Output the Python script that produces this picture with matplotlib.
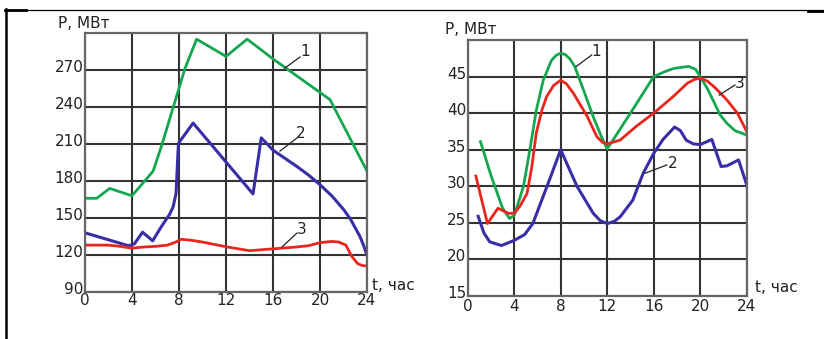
import matplotlib
matplotlib.use("Agg")
import matplotlib.pyplot as plt
from matplotlib.lines import Line2D
import matplotlib.transforms as mtransforms

plt.rcParams['font.family'] = ['DejaVu Sans']

# ---------------- Left chart data ----------------
L_t1 = [0, 1.0, 2.1, 4.0, 5.8, 6.5, 8.5, 9.5, 12.0, 13.8, 16.0, 20.85, 24.0]
L_p1 = [166, 166, 174, 168, 188, 208, 271, 295, 281, 295, 279, 246, 188]

L_t2 = [0, 3.7, 4.2, 4.9, 5.76, 6.5, 7.2, 7.5, 7.75, 7.85, 7.95, 9.2, 14.3, 15.0,
        16.0, 17.0, 18.0, 19.0, 20.0, 21.0, 22.0, 22.6, 23.0, 23.4, 23.7, 24.0]
L_p2 = [138, 127.5, 129, 138.5, 131.5, 143, 153, 159, 170, 190, 210.5, 227, 169.5, 215,
        205, 198.5, 192, 185, 177, 168, 157, 149, 142, 135, 128, 120]

L_t3 = [0, 2, 3, 4, 5, 6, 7, 7.6, 8.2, 9, 10, 12, 14, 16, 18, 19, 20, 21, 21.6,
        22.2, 22.7, 23.2, 23.6, 24]
L_p3 = [128, 128, 127, 125.5, 126.5, 127, 128, 130, 132.7, 132, 130.5, 126.7, 123.5, 125,
        126.5, 127.5, 130, 131, 130.5, 128, 119, 113, 111.5, 111]

L_yticks = [90, 120, 150, 180, 210, 240, 270]
L_xticks = [0, 4, 8, 12, 16, 20, 24]

# ---------------- Right chart data ----------------
R_t1 = [1.1, 2.0, 3.0, 3.6, 4.0, 4.8, 5.4, 5.9, 6.5, 7.2, 7.6, 8.0, 8.4, 8.8, 9.2, 10.0, 10.8,
        11.5, 12.0, 14.0, 16.0, 17.0, 17.7, 19.0, 19.6, 20.0, 20.6, 21.1, 21.7, 22.3, 23.0, 24.0]
R_p1 = [36.1, 31.5, 27.0, 25.6, 26.0, 30.0, 35.5, 40.4, 44.5, 47.2, 47.9, 48.2, 48.0, 47.4, 46.4, 43.0, 39.5,
        36.8, 35.1, 40.0, 45.0, 45.7, 46.1, 46.4, 46.0, 45.0, 43.4, 41.8, 39.8, 38.6, 37.6, 37.0]

R_t3 = [0.7, 1.7, 2.6, 3.5, 4.0, 4.5, 5.1, 5.5, 5.9, 6.4, 6.8, 7.4, 8.0, 8.5, 9.1, 10.3, 11.1,
        11.6, 12.0, 13.1, 14.5, 16.0, 17.7, 18.9, 19.5, 20.0, 20.6, 21.2, 22.3, 23.2, 24.0]
R_p3 = [31.4, 24.9, 27.0, 26.3, 26.3, 27.3, 29.0, 32.5, 37.3, 40.5, 42.3, 43.8, 44.5, 44.0, 42.7, 39.5, 36.8,
        36.0, 35.8, 36.3, 38.2, 40.0, 42.3, 44.1, 44.6, 44.8, 44.4, 43.6, 41.8, 40.0, 37.5]

R_t2 = [0.9, 1.4, 1.9, 2.9, 4.0, 4.9, 5.6, 6.8, 8.0, 9.4, 10.8, 11.4, 12.0, 12.6, 13.1, 14.2, 15.1, 16.0,
        16.8, 17.8, 18.3, 18.8, 19.4, 20.0, 21.0, 21.8, 22.3, 23.3, 24.0]
R_p2 = [25.9, 23.6, 22.4, 21.9, 22.6, 23.4, 24.9, 29.9, 35.0, 30.0, 26.3, 25.3, 24.9, 25.2, 25.8, 28.1, 31.8, 34.5,
        36.4, 38.1, 37.6, 36.3, 35.8, 35.7, 36.4, 32.7, 32.8, 33.6, 30.2]

R_yticks = [15, 20, 25, 30, 35, 40, 45]
R_xticks = [0, 4, 8, 12, 16, 20, 24]

GREEN = '#14a650'
BLUE = '#3a2ea6'
RED = '#e8261e'
GRID = '#333333'
TXT = '#222222'
FS = 11

W, H = 824, 339
fig = plt.figure(figsize=(W / 100, H / 100), dpi=100)


def frac(x0, y0, x1, y1):
    return [x0 / W, 1 - y1 / H, (x1 - x0) / W, (y1 - y0) / H]


def style(ax, xlim, ylim, xticks, yticks, xpad, yshift):
    ax.set_xlim(*xlim)
    ax.set_ylim(*ylim)
    ax.set_xticks(xticks)
    ax.set_yticks(yticks)
    ax.set_xticklabels([str(v) for v in xticks])
    ax.set_yticklabels([str(v) for v in yticks])
    ax.tick_params(axis='both', length=0, labelsize=FS, colors=TXT)
    ax.tick_params(axis='x', pad=xpad)
    ax.tick_params(axis='y', pad=1)
    off = mtransforms.ScaledTranslation(0, yshift / 100, fig.dpi_scale_trans)
    for lab in ax.get_yticklabels():
        lab.set_transform(lab.get_transform() + off)
    ax.grid(True, color=GRID, lw=1.5)
    ax.set_axisbelow(True)
    for s in ax.spines.values():
        s.set_color('#666666')
        s.set_linewidth(1.6)


# Left axes
axL = fig.add_axes(frac(85, 33, 367, 292))
axL.plot(L_t1, L_p1, color=GREEN, lw=2.0)
axL.plot(L_t2, L_p2, color=BLUE, lw=2.2)
axL.plot(L_t3, L_p3, color=RED, lw=2.0)
style(axL, (0, 24), (90, 300), L_xticks, L_yticks, 1, 4)

# Right axes
axR = fig.add_axes(frac(467.7, 40, 746.7, 296))
axR.plot(R_t1, R_p1, color=GREEN, lw=2.0)
axR.plot(R_t3, R_p3, color=RED, lw=2.0)
axR.plot(R_t2, R_p2, color=BLUE, lw=2.2)
style(axR, (0, 24), (15, 50), R_xticks, R_yticks, 2, 4)

# Axis titles
fig.text(58 / W, 1 - 23 / H, 'P, МВт', fontsize=FS, va='center', ha='left', color=TXT)
fig.text(445 / W, 1 - 29 / H, 'P, МВт', fontsize=FS, va='center', ha='left', color=TXT)
fig.text(372 / W, 1 - 286 / H, 't, час', fontsize=FS, va='center', ha='left', color=TXT)
fig.text(755 / W, 1 - 288 / H, 't, час', fontsize=FS, va='center', ha='left', color=TXT)

# Curve labels with leader lines (figure pixel coords)
labels = [
    ('1', (285, 68), (300, 57), (305, 52)),
    ('2', (280, 151), (297, 138), (301, 133)),
    ('3', (282, 247), (297, 233), (302, 229)),
    ('1', (576, 66.7), (591.7, 55), (596, 51.7)),
    ('3', (719.3, 95), (735, 85), (740, 83.3)),
    ('2', (645, 173.3), (666.7, 165), (672.3, 163.3)),
]
for txt, p0, p1, pt in labels:
    fig.add_artist(Line2D([p0[0] / W, p1[0] / W], [1 - p0[1] / H, 1 - p1[1] / H],
                          transform=fig.transFigure, color=TXT, lw=0.9))
    fig.text(pt[0] / W, 1 - pt[1] / H, txt, fontsize=FS, ha='center', va='center', color=TXT)

# Outer frame fragments
fig.add_artist(Line2D([5 / W, 1.0], [1 - 9.5 / H, 1 - 9.5 / H], transform=fig.transFigure,
                      color='black', lw=0.9))
fig.add_artist(Line2D([5 / W, 26 / W], [1 - 10 / H, 1 - 10 / H], transform=fig.transFigure,
                      color='black', lw=2))
fig.add_artist(Line2D([808 / W, 1.0], [1 - 10.5 / H, 1 - 10.5 / H], transform=fig.transFigure,
                      color='black', lw=2))
fig.add_artist(Line2D([5.5 / W, 5.5 / W], [1 - 9 / H, 0], transform=fig.transFigure,
                      color='black', lw=1.8))

fig.savefig('out.png', dpi=100)
